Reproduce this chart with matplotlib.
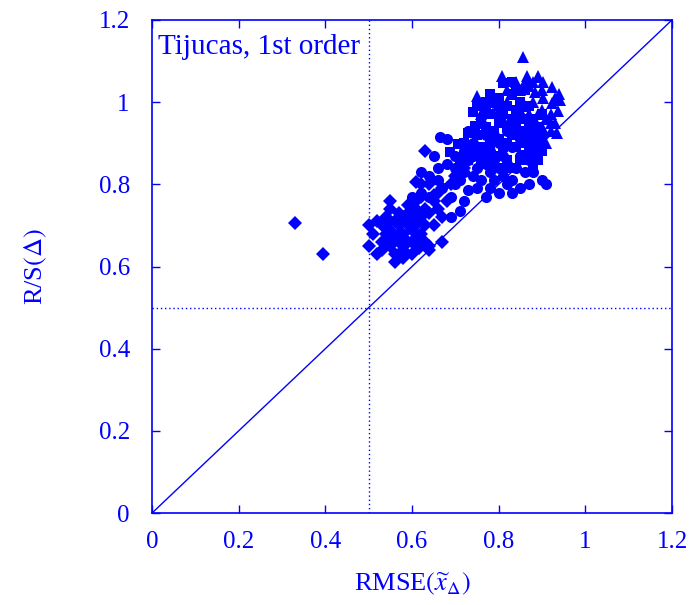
import matplotlib
matplotlib.use("Agg")
import matplotlib.pyplot as plt

BLUE = "#0000ff"

# diamonds
dia_x = [0.33, 0.395, 0.50, 0.51, 0.50, 0.52, 0.53, 0.53, 0.54, 0.54, 0.55, 0.55, 0.55,
         0.56, 0.56, 0.56, 0.57, 0.57, 0.57, 0.58, 0.58, 0.58, 0.59, 0.59, 0.59, 0.60,
         0.60, 0.60, 0.61, 0.61, 0.61, 0.62, 0.62, 0.62, 0.63, 0.63, 0.64, 0.64, 0.65,
         0.65, 0.66, 0.66, 0.67, 0.68, 0.69, 0.56, 0.53, 0.52, 0.54, 0.58, 0.55, 0.57,
         0.60, 0.63, 0.64, 0.62, 0.70, 0.72, 0.67, 0.55, 0.59, 0.61, 0.63, 0.61, 0.65,
         0.67, 0.615, 0.64]
dia_y = [0.705, 0.63, 0.70, 0.68, 0.65, 0.63, 0.66, 0.70, 0.72, 0.68, 0.65, 0.69, 0.74,
         0.71, 0.67, 0.63, 0.70, 0.66, 0.73, 0.68, 0.72, 0.64, 0.70, 0.75, 0.66, 0.69,
         0.72, 0.66, 0.74, 0.70, 0.67, 0.72, 0.68, 0.77, 0.74, 0.70, 0.64, 0.73, 0.76,
         0.70, 0.74, 0.78, 0.72, 0.76, 0.80, 0.61, 0.64, 0.71, 0.66, 0.62, 0.76, 0.68,
         0.63, 0.66, 0.80, 0.80, 0.82, 0.84, 0.66, 0.71, 0.73, 0.76, 0.88, 0.805, 0.774,
         0.79, 0.645, 0.65]

# circles
cir_x = [0.60, 0.62, 0.62, 0.64, 0.65, 0.66, 0.66, 0.665, 0.68, 0.69, 0.69, 0.71, 0.73,
         0.70, 0.70, 0.71, 0.72, 0.72, 0.73, 0.74, 0.74, 0.75, 0.75, 0.76, 0.76, 0.77,
         0.77, 0.78, 0.78, 0.78, 0.79, 0.79, 0.80, 0.80, 0.80, 0.81, 0.81, 0.82, 0.82,
         0.83, 0.83, 0.83, 0.84, 0.85, 0.85, 0.86, 0.86, 0.87, 0.87, 0.88, 0.89, 0.90,
         0.91, 0.88, 0.84, 0.80, 0.76, 0.73, 0.70, 0.68, 0.74, 0.82, 0.79, 0.85, 0.72,
         0.67, 0.77, 0.64, 0.90, 0.88, 0.854, 0.87]
cir_y = [0.77, 0.78, 0.83, 0.82, 0.87, 0.84, 0.81, 0.915, 0.91, 0.77, 0.72, 0.735, 0.785,
         0.84, 0.87, 0.81, 0.88, 0.83, 0.86, 0.82, 0.90, 0.84, 0.79, 0.87, 0.81, 0.85,
         0.92, 0.79, 0.83, 0.88, 0.86, 0.81, 0.90, 0.84, 0.78, 0.87, 0.82, 0.93, 0.85,
         0.78, 0.81, 0.89, 0.84, 0.79, 0.87, 0.83, 0.92, 0.80, 0.86, 0.83, 0.88, 0.81,
         0.80, 0.95, 0.96, 0.96, 0.95, 0.93, 0.80, 0.85, 0.87, 0.80, 0.92, 0.91, 0.76,
         0.79, 0.77, 0.77, 0.92, 0.90, 0.871, 0.864]

# squares
sq_x = [0.688, 0.706, 0.72, 0.73, 0.745, 0.74, 0.77, 0.75, 0.76, 0.77, 0.78, 0.78, 0.79,
        0.79, 0.80, 0.80, 0.80, 0.81, 0.83, 0.81, 0.81, 0.82, 0.82, 0.82, 0.83, 0.83,
        0.83, 0.84, 0.84, 0.84, 0.85, 0.85, 0.85, 0.86, 0.86, 0.86, 0.87, 0.87, 0.87,
        0.88, 0.88, 0.88, 0.89, 0.89, 0.90, 0.90, 0.76, 0.77, 0.74, 0.73, 0.79, 0.80,
        0.75, 0.78, 0.84, 0.71, 0.72, 0.76, 0.81, 0.83, 0.86, 0.89, 0.90, 0.82, 0.78,
        0.77, 0.80, 0.85]
sq_y = [0.879, 0.898, 0.90, 0.925, 0.942, 0.976, 0.98, 0.92, 0.96, 0.94, 0.90, 0.97, 0.93,
        1.00, 0.95, 0.91, 1.01, 1.047, 1.049, 0.97, 0.89, 0.94, 0.99, 0.86, 0.92, 0.96,
        1.02, 0.89, 0.94, 0.98, 1.00, 0.93, 0.86, 0.96, 0.90, 1.03, 0.94, 0.88, 0.99,
        0.92, 0.96, 0.85, 0.90, 0.94, 0.88, 0.97, 0.89, 0.87, 0.88, 0.86, 0.85, 0.87,
        0.99, 1.02, 1.03, 0.86, 0.84, 0.85, 0.84, 0.84, 0.86, 0.86, 0.91, 0.90, 0.92,
        1.00, 0.99, 0.96]

# triangles
tri_x = [0.856, 0.808, 0.865, 0.891, 0.902, 0.923, 0.942, 0.937, 0.923, 0.902, 0.884,
         0.787, 0.93, 0.935, 0.895, 0.75, 0.84, 0.83, 0.87, 0.85, 0.88, 0.86, 0.82, 0.80,
         0.90, 0.91, 0.89, 0.87, 0.85, 0.84, 0.88, 0.90, 0.92, 0.86, 0.83, 0.81, 0.89,
         0.91, 0.87, 0.92, 0.94, 0.93, 0.88, 0.86, 0.90, 0.82, 0.79, 0.76, 0.92, 0.89]
tri_y = [1.11, 1.064, 1.064, 1.064, 1.049, 1.037, 1.005, 0.979, 0.998, 1.01, 1.025,
         0.974, 0.949, 0.925, 0.908, 1.015, 1.05, 1.02, 1.04, 1.03, 1.00, 0.99, 1.00, 0.98,
         0.98, 0.96, 0.97, 0.97, 0.98, 0.95, 0.94, 0.94, 0.93, 0.93, 0.95, 0.96, 0.92,
         0.90, 0.91, 0.97, 1.02, 1.01, 1.05, 1.05, 1.03, 1.03, 1.00, 0.97, 0.95, 1.06]

plt.rcParams["font.family"] = ["Liberation Serif", "DejaVu Serif"]
plt.rcParams["mathtext.fontset"] = "stix"

fig = plt.figure(figsize=(6.98, 6.05), dpi=100)
ax = fig.add_axes([0.2178, 0.152, 0.745, 0.815])

ax.axvline(0.5, color=BLUE, lw=1.0, ls=(0, (1, 2)))
ax.axhline(0.5, color=BLUE, lw=1.0, ls=(0, (1, 2)))
ax.plot([0, 1.2], [0, 1.2], color=BLUE, lw=1.0)

ms = 8
ax.plot(dia_x, dia_y, "D", color=BLUE, ms=ms * 0.85, mew=0, ls="none")
ax.plot(cir_x, cir_y, "o", color=BLUE, ms=ms, mew=0, ls="none")
ax.plot(sq_x, sq_y, "s", color=BLUE, ms=ms * 0.95, mew=0, ls="none")
ax.plot(tri_x, tri_y, "^", color=BLUE, ms=ms * 1.1, mew=0, ls="none")

ax.set_xlim(0, 1.2)
ax.set_ylim(0, 1.2)
ticks = [0, 0.2, 0.4, 0.6, 0.8, 1.0, 1.2]
labels = ["0", "0.2", "0.4", "0.6", "0.8", "1", "1.2"]
ax.set_xticks(ticks)
ax.set_xticklabels(labels)
ax.set_yticks(ticks)
ax.set_yticklabels(labels)
ax.tick_params(direction="in", length=6, width=1, color=BLUE, labelcolor=BLUE,
               labelsize=18, top=True, right=True)
ax.tick_params(axis="x", pad=13)
ax.tick_params(axis="y", pad=16)
for s in ax.spines.values():
    s.set_color(BLUE)
    s.set_linewidth(1.2)

ax.set_xlabel(r"RMSE$(\widetilde{x}_{\Delta})$", color=BLUE, fontsize=19, labelpad=12)
ax.set_ylabel(r"R/S$(\mathit{\Delta})$", color=BLUE, fontsize=19, labelpad=36)
ax.text(0.012, 0.972, "Tijucas, 1st order", transform=ax.transAxes, color=BLUE,
        fontsize=21, va="top", ha="left")

fig.savefig("out.png", dpi=100)
